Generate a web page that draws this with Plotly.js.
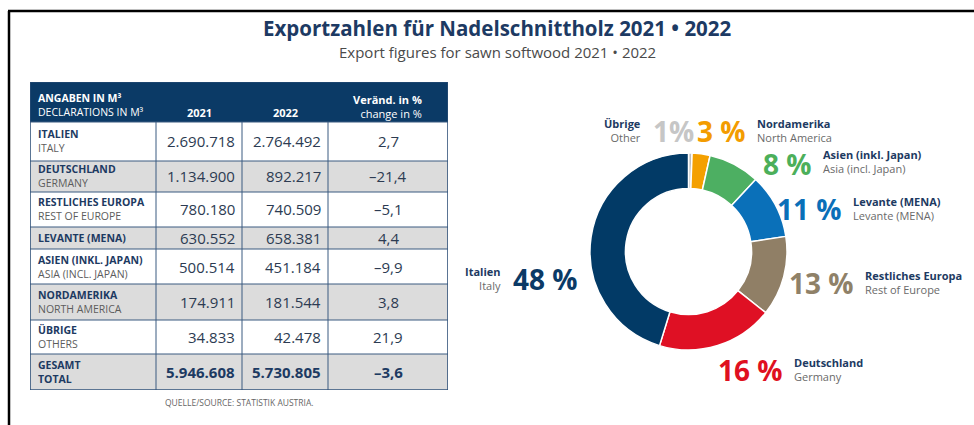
<!DOCTYPE html>
<html><head><meta charset="utf-8">
<script src="https://cdn.plot.ly/plotly-3.0.1.min.js"></script>
<style>html,body{margin:0;padding:0;background:#fff}#chart{width:974px;height:425px}</style>
</head><body><div id="chart"></div>
<script>
// ---------- DATA ----------
const regionsDe = ['ITALIEN','DEUTSCHLAND','RESTLICHES EUROPA','LEVANTE (MENA)','ASIEN (INKL. JAPAN)','NORDAMERIKA','ÜBRIGE'];
const regionsEn = ['ITALY','GERMANY','REST OF EUROPE','','ASIA (INCL. JAPAN)','NORTH AMERICA','OTHERS'];
const values2021 = [2690718, 1134900, 780180, 630552, 500514, 174911, 34833];
const values2022 = [2764492, 892217, 740509, 658381, 451184, 181544, 42478];
const changePct  = [2.7, -21.4, -5.1, 4.4, -9.9, 3.8, 21.9];
const totalChangePct = -3.6;

// donut (clockwise from 12 o'clock)
const pieNamesDe = ['Übrige','Nordamerika','Asien (inkl. Japan)','Levante (MENA)','Restliches Europa','Deutschland','Italien'];
const pieNamesEn = ['Other','North America','Asia (incl. Japan)','Levante (MENA)','Rest of Europe','Germany','Italy'];
const pieTableIndex = [6, 5, 4, 3, 2, 1, 0];
const pieShareLabels = ['1%','3 %','8 %','11 %','13 %','16 %','48 %'];

// ---------- STYLE ----------
const W = 974, H = 425;
const NAVY = '#0b3a66';
const pieColors = ['#bcbcbc','#f4a000','#4daf62','#0a70b9','#907f66','#df1024','#023a66'];
const pctColors = ['#c6c6c6','#f39c00','#4caf5a','#0a6fb8','#8f8168','#df1020','#0b3a66'];
// label placement per slice: [textX, textY, side, pctY]
const pieLabelPos = [
  [643,130,'left',131],[755,130,'right',131],[821,162,'right',164],
  [851,208,'right',209],[863,282,'right',283],[792,369,'right',370],[503,278,'left',279]
];
const colEdges = [30,156,242,328,448];
const tableTop = 82, headerBottom = 122;
const rowHeights = [39,31,35,22,35,36,34,36];
const FONT = 'Open Sans, Liberation Sans, sans-serif';

const px = x => x / W, py = y => 1 - y / H;
function fmtInt(n){ return String(n).replace(/\B(?=(\d{3})+(?!\d))/g,'.'); }
function fmtPct(v){ return (v<0?'–':'') + Math.abs(v).toFixed(1).replace('.',','); }

const sum = a => a.reduce((s,v)=>s+v,0);
const total2021 = sum(values2021), total2022 = sum(values2022);

// ---------- TABLE (shapes + annotations on hidden axes) ----------
const shapes = [], annotations = [];
const rowEdges = [headerBottom];
rowHeights.forEach(h => rowEdges.push(rowEdges[rowEdges.length-1] + h));
const tableBottom = rowEdges[rowEdges.length-1];

shapes.push({type:'rect', xref:'x', yref:'y', x0:colEdges[0], x1:colEdges[4], y0:tableTop, y1:headerBottom, fillcolor:NAVY, line:{width:0}, layer:'below'});
rowHeights.forEach((h,i) => {
  shapes.push({type:'rect', xref:'x', yref:'y', x0:colEdges[0], x1:colEdges[4], y0:rowEdges[i], y1:rowEdges[i+1],
    fillcolor: i%2 ? '#dcdcdc' : '#ffffff', line:{width:0}, layer:'below'});
});
rowEdges.forEach(y => shapes.push({type:'line', xref:'x', yref:'y', x0:colEdges[0], x1:colEdges[4], y0:y, y1:y, line:{color:'#3b5a80', width:1}}));
colEdges.forEach(x => shapes.push({type:'line', xref:'x', yref:'y', x0:x, x1:x, y0:headerBottom, y1:tableBottom, line:{color:'#3b5a80', width:1}}));
shapes.push({type:'rect', xref:'x', yref:'y', x0:colEdges[0], x1:colEdges[4], y0:tableTop, y1:tableBottom, line:{color:'#2f5078', width:1.2}});

// header
const hdrFont = {family:FONT, size:10.5, color:'#ffffff'};
annotations.push({xref:'x', yref:'y', x:36, y:105, xanchor:'left', yanchor:'middle', align:'left', showarrow:false,
  text:'<b>ANGABEN IN M³</b><br>DECLARATIONS IN M³', font:hdrFont});
annotations.push({xref:'x', yref:'y', x:(colEdges[1]+colEdges[2])/2, y:113, xanchor:'center', yanchor:'middle', showarrow:false,
  text:'<b>2021</b>', font:{family:FONT, size:11, color:'#fff'}});
annotations.push({xref:'x', yref:'y', x:(colEdges[2]+colEdges[3])/2, y:113, xanchor:'center', yanchor:'middle', showarrow:false,
  text:'<b>2022</b>', font:{family:FONT, size:11, color:'#fff'}});
annotations.push({xref:'x', yref:'y', x:424, y:107, xanchor:'right', yanchor:'middle', align:'right', showarrow:false,
  text:'<b>Veränd. in %</b><br>change in %', font:{family:FONT, size:11, color:'#fff'}});

const rowsDe = regionsDe.concat(['GESAMT']);
const rowsEn = regionsEn.concat(['TOTAL']);
const rows21 = values2021.concat([total2021]);
const rows22 = values2022.concat([total2022]);
const rowsCh = changePct.concat([totalChangePct]);
rowsDe.forEach((de,i) => {
  const mid = (rowEdges[i]+rowEdges[i+1])/2;
  const isTotal = i === rowsDe.length-1;
  const en = rowsEn[i];
  const label = '<b>'+de+'</b>' + (en ? '<br>' + (isTotal ? '<b>'+en+'</b>' : '<span style="color:#5c5c5c">'+en+'</span>') : '');
  annotations.push({xref:'x', yref:'y', x:36, y:mid, xanchor:'left', yanchor:'middle', align:'left', showarrow:false,
    text:label, font:{family:FONT, size:10.5, color:'#1d3a62'}});
  const nf = {family:FONT, size:15, color: isTotal ? '#1d3a62' : '#2c3b52'};
  const w = s => isTotal ? '<b>'+s+'</b>' : s;
  annotations.push({xref:'x', yref:'y', x:colEdges[2]-5, y:mid, xanchor:'right', yanchor:'middle', showarrow:false, text:w(fmtInt(rows21[i])), font:nf});
  annotations.push({xref:'x', yref:'y', x:colEdges[3]-5, y:mid, xanchor:'right', yanchor:'middle', showarrow:false, text:w(fmtInt(rows22[i])), font:nf});
  annotations.push({xref:'x', yref:'y', x:(colEdges[3]+colEdges[4])/2, y:mid, xanchor:'center', yanchor:'middle', showarrow:false, text:w(fmtPct(rowsCh[i])), font:nf});
});
annotations.push({xref:'paper', yref:'paper', x:px((colEdges[0]+colEdges[4])/2), y:py(402), xanchor:'center', yanchor:'middle', showarrow:false,
  text:'QUELLE/SOURCE: STATISTIK AUSTRIA.', font:{family:FONT, size:8.5, color:'#666'}});

// ---------- TITLES ----------
annotations.push({xref:'paper', yref:'paper', x:px(497), y:py(28), xanchor:'center', yanchor:'middle', showarrow:false,
  text:'<b>Exportzahlen für Nadelschnittholz 2021 • 2022</b>', font:{family:FONT, size:20.5, color:'#1d3a63'}});
annotations.push({xref:'paper', yref:'paper', x:px(497), y:py(52), xanchor:'center', yanchor:'middle', showarrow:false,
  text:'Export figures for sawn softwood 2021 • 2022', font:{family:FONT, size:15, color:'#4a4a4a'}});

// ---------- DONUT LABELS ----------
pieNamesDe.forEach((de,i) => {
  const [tx, ty, side, pyv] = pieLabelPos[i];
  const txt = '<b>'+de+'</b><br><span style="color:#6a6a6a">'+pieNamesEn[i]+'</span>';
  annotations.push({xref:'paper', yref:'paper', x:px(tx), y:py(ty), xanchor: side==='left'?'right':'left', yanchor:'middle',
    align: side==='left'?'right':'left', showarrow:false, text:txt, font:{family:FONT, size:11, color:'#1d3a62'}});
  annotations.push({xref:'paper', yref:'paper', x:px(side==='left' ? tx+8 : tx-7), y:py(pyv), xanchor: side==='left'?'left':'right', yanchor:'middle',
    showarrow:false, text:'<b>'+pieShareLabels[i]+'</b>', font:{family:FONT, size:28, color:pctColors[i]}});
});

// ---------- FRAME ----------
shapes.push({type:'line', xref:'paper', yref:'paper', x0:px(9), x1:px(9), y0:py(11), y1:py(430), line:{color:'#000', width:2.5}});
shapes.push({type:'line', xref:'paper', yref:'paper', x0:px(8), x1:px(980), y0:py(11), y1:py(11), line:{color:'#000', width:2.5}});

const traces = [
  {type:'scatter', x:[], y:[], xaxis:'x', yaxis:'y', showlegend:false, hoverinfo:'skip'},
  {type:'pie', values: pieTableIndex.map(i => values2021[i]), labels: pieNamesDe, sort:false, direction:'clockwise', rotation:0,
   hole:0.64, textinfo:'none', hoverinfo:'label+percent', showlegend:false,
   marker:{colors:pieColors, line:{color:'#ffffff', width:1.5}},
   domain:{x:[px(590), px(787)], y:[py(350), py(153)]}}
];

const layout = {
  width:W, height:H, margin:{l:0,r:0,t:0,b:0}, paper_bgcolor:'#fff', plot_bgcolor:'rgba(0,0,0,0)',
  showlegend:false,
  xaxis:{domain:[px(colEdges[0]), px(colEdges[4])], range:[colEdges[0], colEdges[4]], visible:false, fixedrange:true},
  yaxis:{domain:[py(tableBottom), py(tableTop)], range:[tableBottom, tableTop], visible:false, fixedrange:true},
  shapes, annotations, font:{family:FONT}
};
Plotly.newPlot('chart', traces, layout, {displayModeBar:false, staticPlot:true});
</script></body></html>
